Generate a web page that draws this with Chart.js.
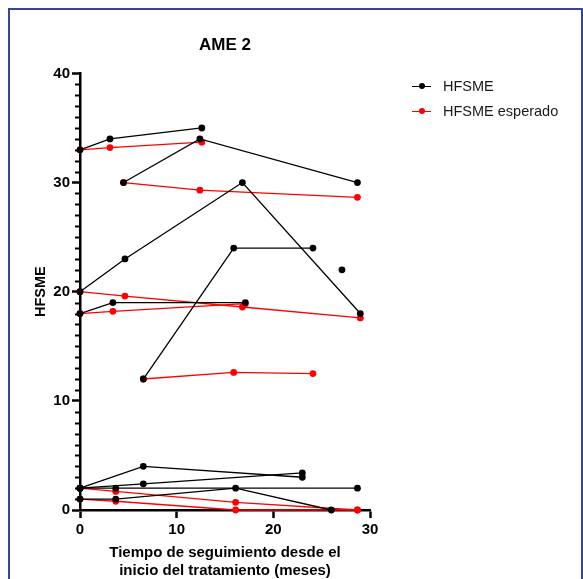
<!DOCTYPE html>
<html>
<head>
<meta charset="utf-8">
<script src="https://cdn.jsdelivr.net/npm/chart.js@4.4.1/dist/chart.umd.min.js"></script>
<style>
    html, body { margin: 0; padding: 0; background: #fff; }
    body { width: 583px; height: 579px; position: relative; overflow: hidden; font-family: "Liberation Sans", Arial, sans-serif; }
    .frame { position: absolute; left: 8px; top: 8px; width: 575px; height: 600px; border: 2px solid #34469a; box-sizing: border-box; }
    #chart { position: absolute; left: 0; top: 0; }
    .legend-item { position: absolute; left: 412px; height: 18px; line-height: 18px; font-size: 14.5px; color: #1a1a1a; white-space: nowrap; }
    .legend-key { display: inline-block; position: relative; width: 19px; height: 1.3px; vertical-align: middle; margin-right: 12px; margin-top: -2px; }
    .legend-key::after { content: ''; position: absolute; left: 7px; top: -2.4px; width: 6px; height: 6px; border-radius: 50%; background: inherit; }
</style>
</head>
<body>
<div class="frame"></div>
<canvas id="chart" width="583" height="579"></canvas>
<div class="legend-item" style="top:77px"><span class="legend-key" style="background:#000"></span>HFSME</div>
<div class="legend-item" style="top:102px"><span class="legend-key" style="background:#ff0000"></span>HFSME esperado</div>
<script>
    // valores: [meses, HFSME]
    const medidoA = [[0, 33], [3.1, 34], [12.6, 35]];
    const medidoB = [[4.5, 30], [12.4, 34], [28.7, 30]];
    const medidoC = [[0, 20], [4.65, 23], [16.8, 30], [29, 18]];
    const medidoD = [[0, 18], [3.4, 19], [17.1, 19]];
    const medidoE = [[6.55, 12], [15.9, 24], [24.1, 24]];
    const medidoF = [[27.1, 22]];
    const medidoG = [[0, 2], [6.55, 4], [23, 3]];
    const medidoH = [[0, 2], [6.55, 2.4], [23, 3.4]];
    const medidoI = [[0, 2], [3.7, 2], [28.7, 2]];
    const medidoJ = [[0, 1], [3.7, 1], [16.1, 2], [26, 0]];

    const esperadoA = [[0, 33], [3.1, 33.2], [12.6, 33.7]];
    const esperadoB = [[4.5, 30], [12.4, 29.3], [28.7, 28.65]];
    const esperadoC = [[0, 20], [4.65, 19.6], [16.8, 18.6], [29, 17.6]];
    const esperadoD = [[0, 18], [3.4, 18.2], [17.1, 18.9]];
    const esperadoE = [[6.55, 12], [15.9, 12.6], [24.1, 12.5]];
    const esperadoI = [[0, 2], [3.7, 1.7], [16.1, 0.7], [28.7, 0]];
    const esperadoJ = [[0, 1], [3.7, 0.8], [16.1, 0], [28.7, 0]];

    const medidos = [medidoA, medidoB, medidoC, medidoD, medidoE, medidoF, medidoG, medidoH, medidoI, medidoJ];
    const esperados = [esperadoA, esperadoB, esperadoC, esperadoD, esperadoE, esperadoI, esperadoJ];

    const xTicks = [0, 10, 20, 30];
    const yTicks = [0, 10, 20, 30, 40];

    const fontFamily = '"Liberation Sans", Arial, sans-serif';

    const toDataset = (points, label, color) => ({
        label,
        data: points.map(([x, y]) => ({ x, y })),
        showLine: true,
        borderColor: color,
        backgroundColor: color,
        borderWidth: 1.3,
        pointRadius: 3.4,
        pointBorderWidth: 0,
        clip: false,
    });

    // minor ticks on the y axis (every unit)
    const minorTicks = {
        id: 'minorTicks',
        afterDraw(chart) {
            const y = chart.scales.y;
            const ctx = chart.ctx;
            ctx.save();
            ctx.strokeStyle = '#000';
            ctx.lineWidth = 2;
            for (let v = y.min; v <= y.max; v++) {
                if (v % 10 === 0) continue;
                const py = Math.round(y.getPixelForValue(v)) + 0.5;
                ctx.beginPath();
                ctx.moveTo(y.right - 5, py);
                ctx.lineTo(y.right, py);
                ctx.stroke();
            }
            ctx.restore();
        },
    };

    new Chart(document.getElementById('chart'), {
        type: 'scatter',
        data: {
            datasets: [
                ...medidos.map((p) => toDataset(p, 'HFSME', '#000000')),
                ...esperados.map((p) => toDataset(p, 'HFSME esperado', '#ff0000')),
            ],
        },
        options: {
            responsive: false,
            animation: false,
            layout: { padding: { left: 0, right: 213, top: 0, bottom: 0 } },
            plugins: {
                legend: { display: false },
                tooltip: { enabled: false },
                title: {
                    display: true,
                    text: 'AME 2',
                    fullSize: false,
                    color: '#000',
                    font: { family: fontFamily, size: 17, weight: 'bold' },
                    padding: { top: 35, bottom: 18 },
                },
            },
            scales: {
                x: {
                    type: 'linear',
                    min: 0,
                    max: 30,
                    afterBuildTicks: (s) => { s.ticks = xTicks.map((v) => ({ value: v })); },
                    afterFit: (s) => { s.height = 69; },
                    ticks: {
                        color: '#000',
                        font: { family: fontFamily, size: 15, weight: 'bold' },
                        padding: 3,
                        maxRotation: 0,
                    },
                    grid: { drawOnChartArea: false, tickLength: 8, tickWidth: 2.5, tickColor: '#000' },
                    border: { color: '#000', width: 2.5 },
                    title: {
                        display: true,
                        text: ['Tiempo de seguimiento desde el', 'inicio del tratamiento (meses)'],
                        color: '#000',
                        font: { family: fontFamily, size: 15, weight: 'bold', lineHeight: 1.2 },
                        padding: { top: 4, bottom: -1 },
                    },
                },
                y: {
                    type: 'linear',
                    min: 0,
                    max: 40,
                    afterBuildTicks: (s) => { s.ticks = yTicks.map((v) => ({ value: v })); },
                    afterFit: (s) => { s.width = 80; },
                    ticks: {
                        color: '#000',
                        font: { family: fontFamily, size: 15, weight: 'bold' },
                        padding: 2,
                    },
                    grid: { drawOnChartArea: false, tickLength: 8, tickWidth: 2.5, tickColor: '#000' },
                    border: { color: '#000', width: 2.5 },
                    title: {
                        display: true,
                        text: 'HFSME',
                        color: '#000',
                        font: { family: fontFamily, size: 14.5, weight: 'bold' },
                        padding: { top: 32, bottom: 0 },
                    },
                },
            },
        },
        plugins: [minorTicks],
    });
</script>
</body>
</html>
